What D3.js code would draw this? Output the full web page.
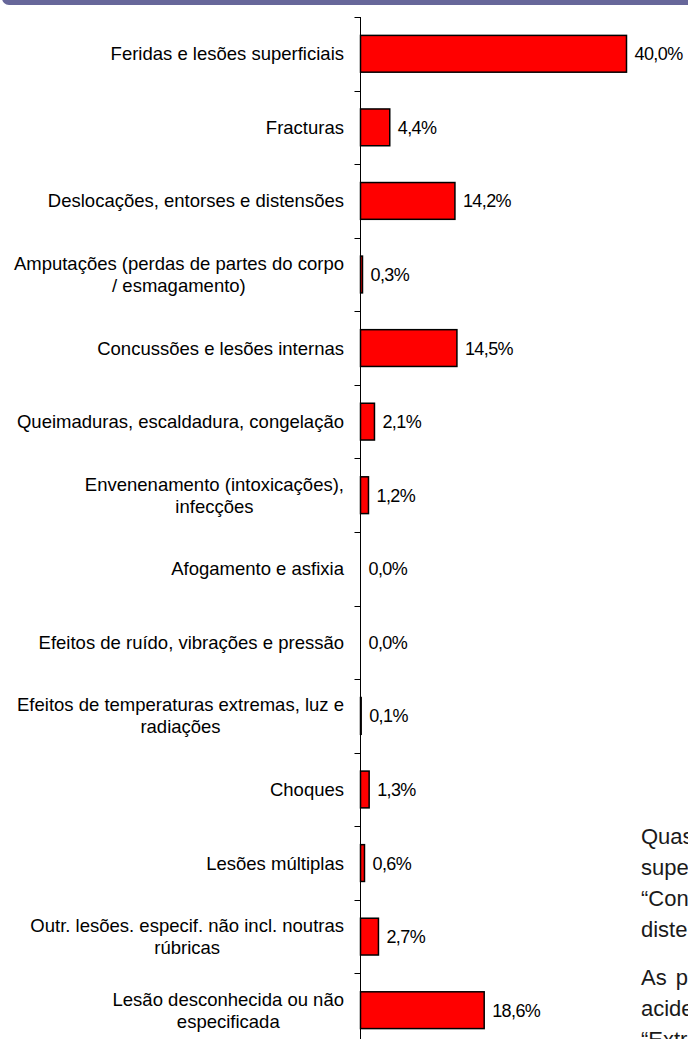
<!DOCTYPE html>
<html lang="pt">
<head>
<meta charset="utf-8">
<script src="https://cdn.jsdelivr.net/npm/d3@7"></script>
<style>
  html, body { margin: 0; padding: 0; background: #fff; }
  svg { display: block; }
</style>
</head>
<body>
<script>
// Natureza da lesão — percentagem de acidentes de trabalho
const categories = [
  "Feridas e lesões superficiais",
  "Fracturas",
  "Deslocações, entorses e distensões",
  "Amputações (perdas de partes do corpo\n/ esmagamento)",
  "Concussões e lesões internas",
  "Queimaduras, escaldadura, congelação",
  "Envenenamento (intoxicações),\ninfecções",
  "Afogamento e asfixia",
  "Efeitos de ruído, vibrações e pressão",
  "Efeitos de temperaturas extremas, luz e\nradiações",
  "Choques",
  "Lesões múltiplas",
  "Outr. lesões. especif. não incl. noutras\nrúbricas",
  "Lesão desconhecida ou não\nespecificada"
];
const values = [40.0, 4.4, 14.2, 0.3, 14.5, 2.1, 1.2, 0.0, 0.0, 0.1, 1.3, 0.6, 2.7, 18.6];
const valueLabels = ["40,0%", "4,4%", "14,2%", "0,3%", "14,5%", "2,1%", "1,2%", "0,0%", "0,0%", "0,1%", "1,3%", "0,6%", "2,7%", "18,6%"];

// Texto de comentário ao lado do gráfico
const noteParagraphs = [
  [
    "Quase metade dos acidentes de trabalho resultou em “Feridas e lesões",
    "superficiais”, seguindo-se a “Lesão desconhecida ou não especificada”,",
    "“Concussões e lesões internas” e “Deslocações, entorses e",
    "distensões”."
  ],
  [
    "As partes do corpo mais atingidas nos",
    "acidentes de trabalho foram as",
    "“Extremidades superiores” e as “Extremidades inferiores”."
  ]
];

const W = 688, H = 1039;
const svg = d3.select("body").append("svg")
  .attr("width", W).attr("height", H)
  .attr("viewBox", [0, 0, W, H]);

// faixa de título (parte inferior visível)
svg.append("rect")
  .attr("x", 2).attr("y", -12)
  .attr("width", W + 10).attr("height", 17)
  .attr("rx", 7)
  .attr("fill", "#67679a");

const axisX = 360.5;
const x = d3.scaleLinear().domain([0, 40]).range([axisX, 626.5]);
const y = d3.scaleBand()
  .domain(categories)
  .range([17, 17 + 14 * 73.57])
  .paddingInner(0.5)
  .paddingOuter(0.25);

const step = y.step();
const offset = (step - y.bandwidth()) / 2;

// eixo vertical com marcas nas fronteiras das categorias
const g = svg.append("g");
const boundaries = categories.map(c => y(c) - offset).concat([y(categories[categories.length - 1]) - offset + step]);
g.append("line")
  .attr("x1", axisX).attr("x2", axisX)
  .attr("y1", y.range()[0]).attr("y2", y.range()[1])
  .attr("stroke", "#000").attr("stroke-width", 1);
g.selectAll("line.tick").data(boundaries).join("line")
  .attr("class", "tick")
  .attr("x1", axisX - 6).attr("x2", axisX)
  .attr("y1", d => Math.round(d) + 0.5).attr("y2", d => Math.round(d) + 0.5)
  .attr("stroke", "#000").attr("stroke-width", 1);

// barras
svg.append("g").selectAll("rect").data(values).join("rect")
  .attr("x", x(0))
  .attr("y", (d, i) => y(categories[i]))
  .attr("width", d => x(d) - x(0))
  .attr("height", y.bandwidth())
  .attr("fill", "#ff0000")
  .attr("stroke", d => d > 0 ? "#000" : "none")
  .attr("stroke-width", 1.5);

// rótulos de valor
svg.append("g").selectAll("text").data(values).join("text")
  .attr("x", d => x(d) + 8)
  .attr("y", (d, i) => y(categories[i]) + y.bandwidth() / 2)
  .attr("dy", "0.36em")
  .attr("font-family", "'Liberation Sans', Arial, sans-serif")
  .attr("font-size", 18)
  .attr("letter-spacing", "-0.6px")
  .attr("fill", "#000")
  .text((d, i) => valueLabels[i]);

// rótulos das categorias (linhas centradas, bloco alinhado à direita)
const labelRight = 344;
const lineH = 22;
const lab = svg.append("g")
  .attr("font-family", "'Liberation Sans', Arial, sans-serif")
  .attr("font-size", 18.5)
  .attr("fill", "#000");
categories.forEach(c => {
  const lines = c.split("\n");
  const cy = y(c) + y.bandwidth() / 2;
  const t = lab.append("text");
  const spans = lines.map((ln, k) => t.append("tspan").text(ln));
  const widths = spans.map(s => s.node().getComputedTextLength());
  const maxW = d3.max(widths);
  const center = labelRight - maxW / 2;
  spans.forEach((s, k) => {
    s.attr("x", center)
     .attr("text-anchor", "middle")
     .attr("y", cy + (k - (lines.length - 1) / 2) * lineH)
     .attr("dy", "0.35em");
  });
});

// texto de comentário
const note = svg.append("g")
  .attr("font-family", "'Liberation Sans', Arial, sans-serif")
  .attr("font-size", 22)
  .attr("fill", "#1a1a1a");
const noteX = 641;
let baseY = 844;
noteParagraphs.forEach((para, pi) => {
  para.forEach((ln, li) => {
    note.append("text")
      .attr("x", noteX)
      .attr("y", baseY)
      .attr("word-spacing", pi === 1 && li === 0 ? "3px" : "0px")
      .text(ln);
    baseY += 31;
  });
  baseY += 17;
});
</script>
</body>
</html>
